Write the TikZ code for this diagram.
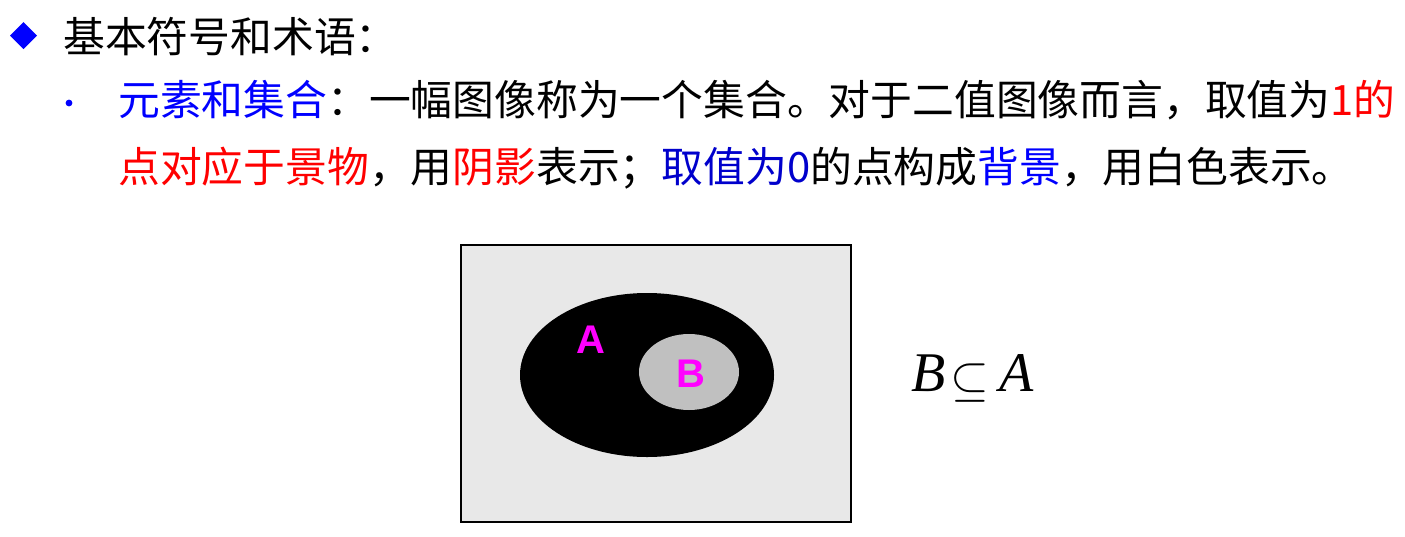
\documentclass[tikz,border=0pt]{standalone}
\usepackage{fontspec}
\newfontfamily\cjk{Noto Sans CJK SC}
\newfontfamily\lsans{Liberation Sans}
\newfontfamily\tms{Liberation Serif}
\definecolor{myblue}{RGB}{0,0,255}
\definecolor{darkblue}{RGB}{0,0,204}
\definecolor{myred}{RGB}{255,0,0}
\definecolor{bggray}{RGB}{232,232,232}
\definecolor{bgray}{RGB}{192,192,192}
\definecolor{mag}{RGB}{255,0,255}
\begin{document}
\begin{tikzpicture}[x=1pt,y=-1pt,
  txt/.style={anchor=west,inner sep=0pt,font=\cjk\fontsize{41.8}{48}\selectfont},
  setlabel/.style={inner sep=0pt,text=mag,font=\lsans\bfseries\fontsize{40}{48}\selectfont}]
\useasboundingbox (0,0) rectangle (1405,536);
% heading
\fill[myblue] (23.5,22) -- (37,35.5) -- (23.5,49) -- (10,35.5) -- cycle;
\node[txt] (h1) at (63,37) {基本符号和术语：};
% bullet
\fill[myblue] (69,103) circle (3.4);
\node[txt] (l1) at (118,100) {\textcolor{myblue}{元素和集合}：一幅图像称为一个集合。对于二值图像而言，取值为\textcolor{myred}{1的}};
\node[txt] (l2) at (118,168) {\textcolor{myred}{点对应于景物}，用\textcolor{myred}{阴影}表示；\textcolor{darkblue}{取值为0}的点构成\textcolor{myblue}{背景}，用白色表示。};
% diagram
\draw[fill=bggray,line width=1.4pt] (461,245) rectangle (851,522);
\fill[black] (647,375) ellipse [x radius=127, y radius=82];
\fill[bgray] (689,372) ellipse [x radius=50, y radius=38];
\node[setlabel] (A) at (591,340) {A};
\node[setlabel] (B) at (691,374) {B};
\node[inner sep=0pt,anchor=west] (rel) at (911,378) {\fontsize{56}{64}\selectfont\tms\itshape B\hspace{5pt}\raisebox{-4pt}{\scalebox{2}{$\subseteq$}}\hspace{10pt}A};
\end{tikzpicture}
\end{document}
